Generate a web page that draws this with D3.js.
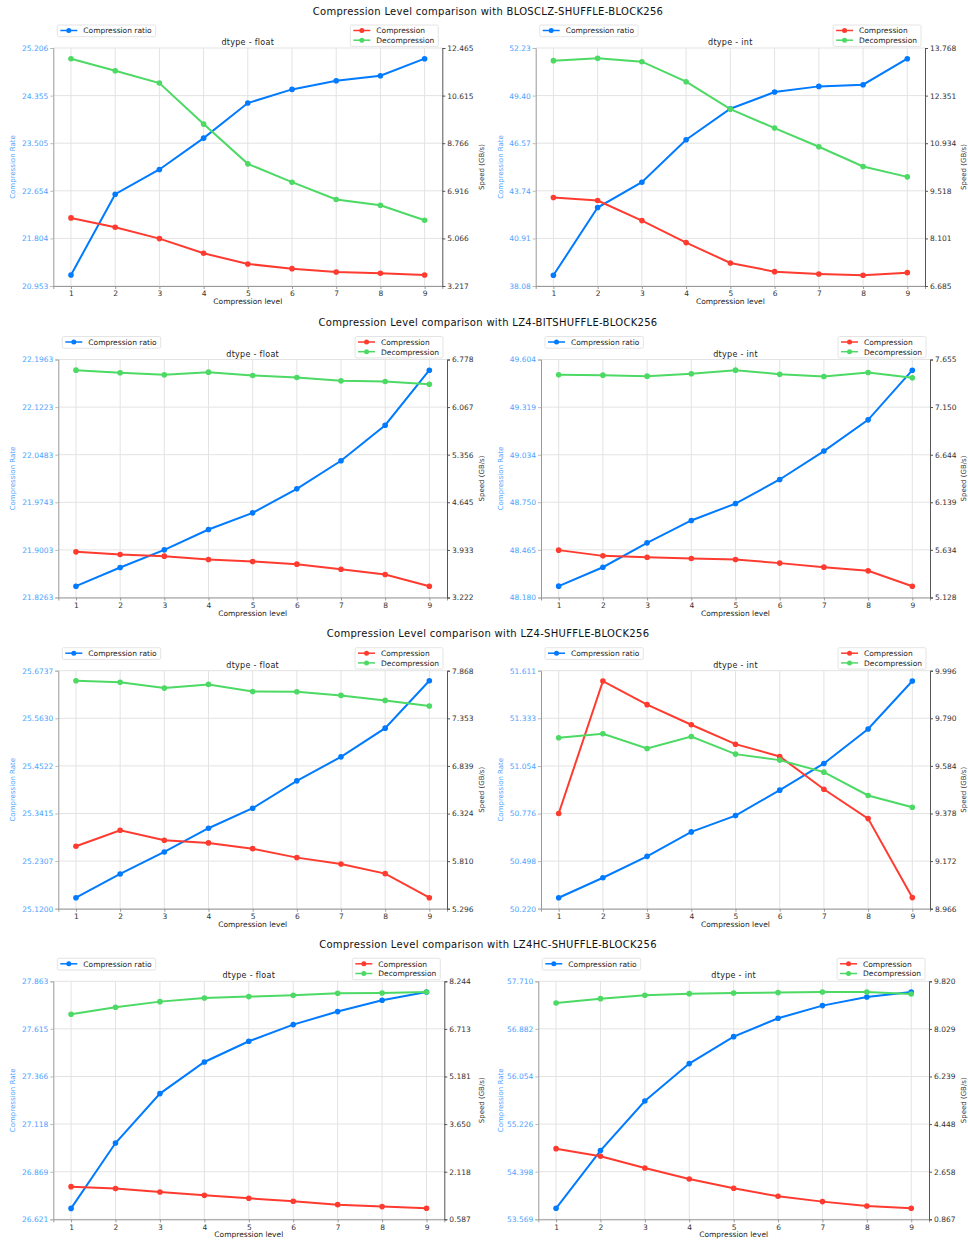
<!DOCTYPE html>
<html>
<head>
<meta charset="utf-8">
<script src="https://d3js.org/d3.v7.min.js"></script>
<style>
  body { margin: 0; background: #fff; }
  svg text { font-family: "DejaVu Sans", sans-serif; }
</style>
</head>
<body>
<script>
// x categories
var levels = [1, 2, 3, 4, 5, 6, 7, 8, 9];
var codecs = ["BLOSCLZ-SHUFFLE-BLOCK256", "LZ4-BITSHUFFLE-BLOCK256", "LZ4-SHUFFLE-BLOCK256", "LZ4HC-SHUFFLE-BLOCK256"];
var dtypes = ["float", "int"];

// BLOSCLZ-SHUFFLE-BLOCK256
var blosclzFloatRatio  = [21.150, 22.593, 23.035, 23.595, 24.222, 24.466, 24.621, 24.711, 25.015];
var blosclzFloatComp   = [5.863, 5.500, 5.059, 4.488, 4.073, 3.891, 3.762, 3.710, 3.645];
var blosclzFloatDecomp = [12.050, 11.583, 11.103, 9.508, 7.964, 7.251, 6.576, 6.356, 5.772];
var blosclzFloatRateTicks  = ["20.953", "21.804", "22.654", "23.505", "24.355", "25.206"];
var blosclzFloatSpeedTicks = ["3.217", "5.066", "6.916", "8.766", "10.615", "12.465"];

var blosclzIntRatio  = [38.715, 42.744, 44.252, 46.772, 48.618, 49.610, 49.948, 50.047, 51.595];
var blosclzIntComp   = [9.318, 9.228, 8.632, 7.976, 7.370, 7.112, 7.043, 7.003, 7.082];
var blosclzIntDecomp = [13.391, 13.460, 13.361, 12.765, 11.950, 11.384, 10.828, 10.241, 9.933];
var blosclzIntRateTicks  = ["38.08", "40.91", "43.74", "46.57", "49.40", "52.23"];
var blosclzIntSpeedTicks = ["6.685", "8.101", "9.518", "10.934", "12.351", "13.768"];

// LZ4-BITSHUFFLE-BLOCK256
var lz4bitFloatRatio  = [21.8439, 21.8729, 21.9004, 21.9320, 21.9579, 21.9952, 22.0388, 22.0942, 22.1797];
var lz4bitFloatComp   = [3.904, 3.864, 3.840, 3.790, 3.760, 3.720, 3.645, 3.566, 3.391];
var lz4bitFloatDecomp = [6.619, 6.579, 6.549, 6.589, 6.539, 6.509, 6.459, 6.449, 6.409];
var lz4bitFloatRateTicks  = ["21.8263", "21.9003", "21.9743", "22.0483", "22.1223", "22.1963"];
var lz4bitFloatSpeedTicks = ["3.222", "3.933", "4.645", "5.356", "6.067", "6.778"];

var lz4bitIntRatio  = [48.248, 48.361, 48.507, 48.641, 48.742, 48.886, 49.056, 49.243, 49.540];
var lz4bitIntComp   = [5.631, 5.570, 5.556, 5.542, 5.532, 5.493, 5.450, 5.411, 5.248];
var lz4bitIntDecomp = [7.492, 7.489, 7.478, 7.503, 7.542, 7.499, 7.475, 7.517, 7.460];
var lz4bitIntRateTicks  = ["48.180", "48.465", "48.750", "49.034", "49.319", "49.604"];
var lz4bitIntSpeedTicks = ["5.128", "5.634", "6.139", "6.644", "7.150", "7.655"];

// LZ4-SHUFFLE-BLOCK256
var lz4FloatRatio  = [25.1456, 25.2008, 25.2520, 25.3072, 25.3538, 25.4174, 25.4733, 25.5401, 25.6504];
var lz4FloatComp   = [5.971, 6.144, 6.036, 6.007, 5.945, 5.848, 5.779, 5.675, 5.415];
var lz4FloatDecomp = [7.760, 7.742, 7.680, 7.720, 7.644, 7.641, 7.601, 7.547, 7.486];
var lz4FloatRateTicks  = ["25.1200", "25.2307", "25.3415", "25.4522", "25.5630", "25.6737"];
var lz4FloatSpeedTicks = ["5.296", "5.810", "6.324", "6.839", "7.353", "7.868"];

var lz4IntRatio  = [50.284, 50.401, 50.526, 50.669, 50.764, 50.913, 51.069, 51.270, 51.551];
var lz4IntComp   = [9.378, 9.951, 9.849, 9.762, 9.678, 9.625, 9.483, 9.356, 9.014];
var lz4IntDecomp = [9.706, 9.723, 9.659, 9.711, 9.635, 9.609, 9.557, 9.456, 9.405];
var lz4IntRateTicks  = ["50.220", "50.498", "50.776", "51.054", "51.333", "51.611"];
var lz4IntSpeedTicks = ["8.966", "9.172", "9.378", "9.584", "9.790", "9.996"];

// LZ4HC-SHUFFLE-BLOCK256
var lz4hcFloatRatio  = [26.678, 27.019, 27.277, 27.442, 27.550, 27.637, 27.705, 27.764, 27.807];
var lz4hcFloatComp   = [1.638, 1.574, 1.466, 1.359, 1.263, 1.166, 1.059, 0.995, 0.941];
var lz4hcFloatDecomp = [7.182, 7.408, 7.590, 7.708, 7.751, 7.794, 7.858, 7.869, 7.901];
var lz4hcFloatRateTicks  = ["26.621", "26.869", "27.118", "27.366", "27.615", "27.863"];
var lz4hcFloatSpeedTicks = ["0.587", "2.118", "3.650", "5.181", "6.713", "8.244"];

var lz4hcIntRatio  = [53.760, 54.764, 55.628, 56.278, 56.747, 57.066, 57.287, 57.438, 57.525];
var lz4hcIntComp   = [3.525, 3.237, 2.798, 2.384, 2.033, 1.732, 1.532, 1.369, 1.281];
var lz4hcIntDecomp = [9.005, 9.168, 9.293, 9.356, 9.381, 9.394, 9.419, 9.419, 9.344];
var lz4hcIntRateTicks  = ["53.569", "54.398", "55.226", "56.054", "56.882", "57.710"];
var lz4hcIntSpeedTicks = ["0.867", "2.658", "4.448", "6.239", "8.029", "9.820"];

var panels = [
  [blosclzFloatRatio, blosclzFloatComp, blosclzFloatDecomp, blosclzFloatRateTicks, blosclzFloatSpeedTicks],
  [blosclzIntRatio, blosclzIntComp, blosclzIntDecomp, blosclzIntRateTicks, blosclzIntSpeedTicks],
  [lz4bitFloatRatio, lz4bitFloatComp, lz4bitFloatDecomp, lz4bitFloatRateTicks, lz4bitFloatSpeedTicks],
  [lz4bitIntRatio, lz4bitIntComp, lz4bitIntDecomp, lz4bitIntRateTicks, lz4bitIntSpeedTicks],
  [lz4FloatRatio, lz4FloatComp, lz4FloatDecomp, lz4FloatRateTicks, lz4FloatSpeedTicks],
  [lz4IntRatio, lz4IntComp, lz4IntDecomp, lz4IntRateTicks, lz4IntSpeedTicks],
  [lz4hcFloatRatio, lz4hcFloatComp, lz4hcFloatDecomp, lz4hcFloatRateTicks, lz4hcFloatSpeedTicks],
  [lz4hcIntRatio, lz4hcIntComp, lz4hcIntDecomp, lz4hcIntRateTicks, lz4hcIntSpeedTicks]
];

var blue = "#007aff", red = "#ff3b30", green = "#4cd964";
var lightBlue = "#4aa3ff";

// plot boxes, per row: top, and [left, right] for each column
var rowTops = [48, 359.5, 670.7, 981.3];
var rowTitleY = [15, 326, 637, 948];
var colX = [
  [[53.3, 442.3], [535.7, 925]],
  [[58.3, 447], [541, 930]],
  [[58.3, 447], [541, 930]],
  [[53.3, 444.3], [538.3, 929]]
];
// y-label positions (fixed per column, like a tight layout)
var rateLabelX = [14.5, 502.5];
var speedLabelX = [484, 965.5];
var plotH = 238;

var svg = d3.select("body").append("svg")
  .attr("width", 968)
  .attr("height", 1242);

codecs.forEach(function(codec, r) {
  svg.append("text")
    .attr("x", 488)
    .attr("y", rowTitleY[r])
    .attr("text-anchor", "middle")
    .style("font-size", "10px")
    .style("letter-spacing", "0.3px")
    .attr("fill", "#111")
    .text("Compression Level comparison with " + codec);

  dtypes.forEach(function(dt, c) {
    var p = panels[r * 2 + c];
    drawPanel(p, dt, colX[r][c][0], colX[r][c][1], rowTops[r], c);
  });
});

function drawPanel(p, dt, x0, x1, top, col) {
  var bottom = top + plotH;
  var ratio = p[0], comp = p[1], decomp = p[2], rateTicks = p[3], speedTicks = p[4];

  var x = d3.scaleLinear().domain([0.6, 9.4]).range([x0, x1]);
  var yL = d3.scaleLinear().domain([+rateTicks[0], +rateTicks[5]]).range([bottom, top]);
  var yR = d3.scaleLinear().domain([+speedTicks[0], +speedTicks[5]]).range([bottom, top]);

  var g = svg.append("g");

  // grid
  g.selectAll(".vg").data(levels).enter().append("line")
    .attr("x1", d => x(d)).attr("x2", d => x(d))
    .attr("y1", top).attr("y2", bottom)
    .attr("stroke", "#e3e3e3").attr("stroke-width", 1);
  g.selectAll(".hg").data(rateTicks).enter().append("line")
    .attr("x1", x0).attr("x2", x1)
    .attr("y1", d => yL(+d)).attr("y2", d => yL(+d))
    .attr("stroke", "#e3e3e3").attr("stroke-width", 1);

  // axes
  var ax = g.append("g").attr("transform", "translate(0," + bottom + ")")
    .call(d3.axisBottom(x).tickValues(levels).tickSize(3).tickPadding(2));
  ax.select(".domain").attr("stroke", "#999");
  ax.selectAll(".tick line").attr("stroke", "#999");
  ax.selectAll("text").style("font-size", "7.5px").attr("fill", "#333");

  var al = g.append("g").attr("transform", "translate(" + x0 + ",0)")
    .call(d3.axisLeft(yL).tickValues(rateTicks.map(Number))
      .tickFormat((d, i) => rateTicks[i]).tickSize(3).tickPadding(2));
  al.select(".domain").attr("stroke", "#999");
  al.selectAll(".tick line").attr("stroke", "#bbb");
  al.selectAll("text").style("font-size", "7.5px").attr("fill", lightBlue);

  var ar = g.append("g").attr("transform", "translate(" + x1 + ",0)")
    .call(d3.axisRight(yR).tickValues(speedTicks.map(Number))
      .tickFormat((d, i) => speedTicks[i]).tickSize(3).tickPadding(2));
  ar.select(".domain").attr("stroke", "#555");
  ar.selectAll(".tick line").attr("stroke", "#555");
  ar.selectAll("text").style("font-size", "7.5px").attr("fill", "#333");

  // labels
  g.append("text")
    .attr("x", (x0 + x1) / 2).attr("y", bottom + 18)
    .attr("text-anchor", "middle")
    .style("font-size", "7.5px").attr("fill", "#222")
    .text("Compression level");
  g.append("text")
    .attr("transform", "translate(" + rateLabelX[col] + "," + (top + plotH / 2) + ") rotate(-90)")
    .attr("text-anchor", "middle")
    .style("font-size", "7px").attr("fill", lightBlue)
    .text("Compression Rate");
  g.append("text")
    .attr("transform", "translate(" + speedLabelX[col] + "," + (top + plotH / 2) + ") rotate(-90)")
    .attr("text-anchor", "middle")
    .style("font-size", "7px").attr("fill", "#333")
    .text("Speed (GB/s)");
  g.append("text")
    .attr("x", (x0 + x1) / 2).attr("y", top - 3)
    .attr("text-anchor", "middle")
    .style("font-size", "8px").style("letter-spacing", "0.3px").attr("fill", "#222")
    .text("dtype - " + dt);

  // series
  var series = [
    { vals: ratio, y: yL, color: blue },
    { vals: comp, y: yR, color: red },
    { vals: decomp, y: yR, color: green }
  ];
  series.forEach(function(s) {
    var line = d3.line().x((d, i) => x(levels[i])).y(d => s.y(d));
    g.append("path").datum(s.vals)
      .attr("d", line)
      .attr("fill", "none")
      .attr("stroke", s.color)
      .attr("stroke-width", 2);
    g.selectAll(null).data(s.vals).enter().append("circle")
      .attr("cx", (d, i) => x(levels[i]))
      .attr("cy", d => s.y(d))
      .attr("r", 2.8)
      .attr("fill", s.color);
  });

  // legends
  legend(g, x0 + 4, top - 23, [["Compression ratio", blue]], false);
  legend(g, x1 - 4, top - 23, [["Compression", red], ["Decompression", green]], true);
}

function legend(g, x, y, items, alignRight) {
  var lg = g.append("g");
  var box = lg.append("rect").attr("rx", 1.5)
    .attr("fill", "#fff").attr("stroke", "#ddd").attr("stroke-width", 0.8);
  var maxW = 0;
  items.forEach(function(it, i) {
    var t = lg.append("text")
      .attr("x", 26).attr("y", 8.3 + i * 9.7)
      .style("font-size", "7.5px").attr("fill", "#222")
      .text(it[0]);
    maxW = Math.max(maxW, t.node().getComputedTextLength());
    lg.append("line")
      .attr("x1", 3).attr("x2", 20)
      .attr("y1", 5.5 + i * 9.7).attr("y2", 5.5 + i * 9.7)
      .attr("stroke", it[1]).attr("stroke-width", 1.5);
    lg.append("circle").attr("cx", 11.5).attr("cy", 5.5 + i * 9.7)
      .attr("r", 2.5).attr("fill", it[1]);
  });
  var w = 26 + maxW + 4, h = 2 + items.length * 9.7;
  box.attr("width", w).attr("height", h);
  lg.attr("transform", "translate(" + (alignRight ? x - w : x) + "," + y + ")");
}
</script>
</body>
</html>
